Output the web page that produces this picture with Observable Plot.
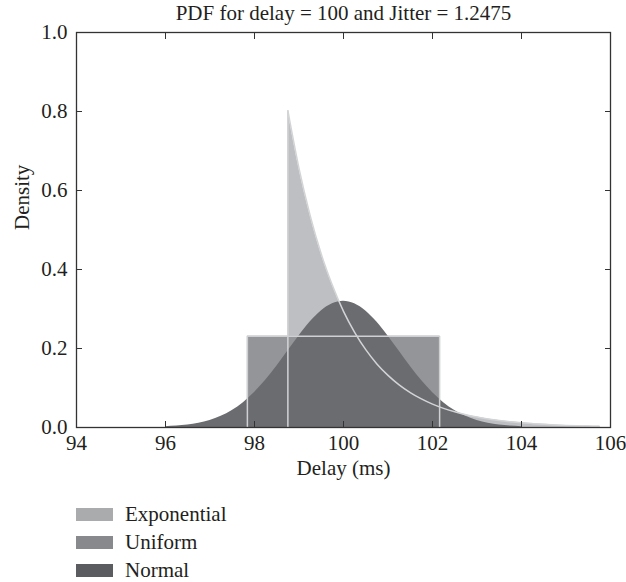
<!DOCTYPE html>
<html><head><meta charset="utf-8">
<script src="https://cdn.jsdelivr.net/npm/d3@7"></script>
<script src="https://cdn.jsdelivr.net/npm/@observablehq/plot@0.6"></script>
<style>
body{margin:0;background:#fff;font-family:"Liberation Serif",serif;color:#231f20}
#chart svg{display:block}
.legend{padding-top:10px}
.row{display:flex;align-items:center;height:28px;margin-left:76px;font-size:21px}
.sw{width:37px;height:13px;margin-right:12px}
</style></head><body>
<div id="chart"></div>
<div class="legend" id="legend"></div>
<script>
const title = "PDF for delay = 100 and Jitter = 1.2475";
const xLabel = "Delay (ms)";
const yLabel = "Density";
const xTicks = [94, 96, 98, 100, 102, 104, 106];
const yTicks = [0, 0.2, 0.4, 0.6, 0.8, 1.0];

const expX = [98.75, 99.0, 99.25, 99.5, 99.75, 100.0, 100.25, 100.5, 100.75, 101.0, 101.25, 101.5, 101.75, 102.0, 102.25, 102.5, 102.75, 103.0, 103.25, 103.5, 103.75, 104.0, 104.25, 104.5, 104.75, 105.0, 105.25, 105.5, 105.75];
const expY = [0.802, 0.656, 0.537, 0.439, 0.360, 0.294, 0.241, 0.197, 0.161, 0.132, 0.108, 0.0884, 0.0724, 0.0592, 0.0485, 0.0397, 0.0325, 0.0266, 0.0218, 0.0178, 0.0146, 0.0119, 0.0098, 0.0080, 0.0065, 0.0053, 0.0044, 0.0036, 0.0030];

const normX = [96, 96.25, 96.5, 96.75, 97, 97.25, 97.5, 97.75, 98, 98.25, 98.5, 98.75, 99, 99.25, 99.5, 99.75, 100, 100.25, 100.5, 100.75, 101, 101.25, 101.5, 101.75, 102, 102.25, 102.5, 102.75, 103, 103.25, 103.5, 103.75, 104];
const normY = [0.0019, 0.0035, 0.0063, 0.0107, 0.0177, 0.0282, 0.0430, 0.0629, 0.0885, 0.1195, 0.1552, 0.1936, 0.2319, 0.2669, 0.2951, 0.3134, 0.3198, 0.3134, 0.2951, 0.2669, 0.2319, 0.1936, 0.1552, 0.1195, 0.0885, 0.0629, 0.0430, 0.0282, 0.0177, 0.0107, 0.0063, 0.0035, 0.0019];

const uniformX1 = 97.84;
const uniformX2 = 102.16;
const uniformY = 0.231;

const seriesNames = ["Exponential", "Uniform", "Normal"];
const legendColors = ["#aaabad", "#88898c", "#5b5c5f"];

const expData = expX.map((x, i) => ({x, y: expY[i]}));
const normData = normX.map((x, i) => ({x, y: normY[i]}));
const uniData = [{x1: uniformX1, x2: uniformX2, y: uniformY}];
const uniOutline = [[uniformX1, 0], [uniformX1, uniformY], [uniformX2, uniformY], [uniformX2, 0]];

const axisColor = "#333";
const fs = 21;
const plot = Plot.plot({
  width: 626, height: 490,
  marginLeft: 76, marginRight: 16, marginTop: 32, marginBottom: 63,
  style: {fontFamily: "'Liberation Serif', serif", fontSize: fs + "px", color: "#231f20", background: "#fff"},
  x: {domain: [94, 106], label: null},
  y: {domain: [0, 1], label: null},
  marks: [
    Plot.areaY(expData, {x: "x", y: "y", fill: "#bebfc2", curve: "monotone-x"}),
    Plot.rectY(uniData, {x1: "x1", x2: "x2", y: "y", fill: "#949598"}),
    Plot.areaY(normData, {x: "x", y: "y", fill: "#6b6c70", curve: "monotone-x"}),
    Plot.lineY(expData, {x: "x", y: "y", stroke: "#d3d4d6", strokeWidth: 1.5, curve: "monotone-x"}),
    Plot.ruleX([expData[0]], {x: "x", y1: 0, y2: "y", stroke: "#d3d4d6", strokeWidth: 1.5}),
    Plot.line(uniOutline, {stroke: "#cfd0d2", strokeWidth: 1.5}),
    Plot.frame({stroke: axisColor, strokeWidth: 1.3}),
    Plot.axisX(xTicks, {anchor: "bottom", tickSize: -6, tickPadding: 14, stroke: axisColor, label: null, fontSize: fs}),
    Plot.axisX(xTicks, {anchor: "top", tickSize: -6, tickFormat: () => "", stroke: axisColor, label: null}),
    Plot.axisY(yTicks, {anchor: "left", tickSize: -6, tickPadding: 15, tickFormat: d3.format(".1f"), stroke: axisColor, label: null, fontSize: fs}),
    Plot.axisY(yTicks, {anchor: "right", tickSize: -6, tickFormat: () => "", stroke: axisColor, label: null}),
    Plot.text([title], {frameAnchor: "top", dy: -19, fontSize: fs, lineAnchor: "middle"}),
    Plot.text([xLabel], {frameAnchor: "bottom", dy: 41, fontSize: fs, lineAnchor: "middle"}),
    Plot.text([yLabel], {frameAnchor: "left", dx: -54, rotate: -90, fontSize: fs, lineAnchor: "middle"})
  ]
});
document.getElementById("chart").append(plot);

const legend = document.getElementById("legend");
seriesNames.forEach((name, i) => {
  const row = document.createElement("div");
  row.className = "row";
  const sw = document.createElement("span");
  sw.className = "sw";
  sw.style.background = legendColors[i];
  const t = document.createElement("span");
  t.textContent = name;
  row.append(sw, t);
  legend.append(row);
});
</script>
</body></html>
